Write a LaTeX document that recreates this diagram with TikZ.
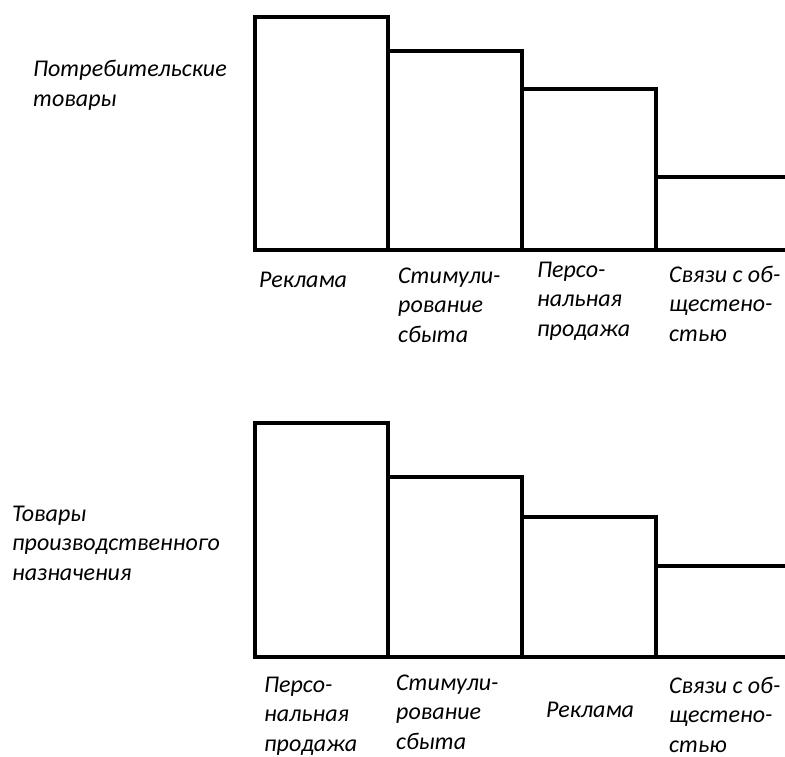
\documentclass[tikz,border=0pt]{standalone}
\usepackage{fontspec}
\setmainfont{Carlito}
\usepackage{tikz}
\usetikzlibrary{positioning}

\tikzset{
	bar/.style={draw=black, line width=3.5pt, line join=miter},
	% anchored at the baseline of the last line
	lbl/.style={anchor=base west, align=left, inner sep=0pt, font=\itshape\fontsize{24}{29.5}\selectfont},
}

\begin{document}
\begin{tikzpicture}[x=1pt, y=-1pt]
	\useasboundingbox (0,0) rectangle (785,757);

	% upper chart: bars
	\foreach \xa/\xb/\h in {255/388/17, 388/522/51, 522/656/89} {
		\draw[bar] (\xa,250) rectangle (\xb,\h);
	}
	\draw[bar] (785,177) -- (656,177) -- (656,250) -- (785,250);

	% upper chart: labels
	\node[lbl] (title1) at (33,106.5) {Потребительские\\товары};
	\foreach \t/\x/\y [count=\n] in {
		{Реклама}/259/287,
		{Стимули-\\рование\\сбыта}/398/342,
		{Персо-\\нальная\\продажа}/537/336,
		{Связи с об-\\щестено-\\стью}/669/341} {
		\node[lbl] (top\n) at (\x,\y) {\t};
	}

	% lower chart: bars
	\foreach \xa/\xb/\h in {255/388/423, 388/522/477, 522/656/517} {
		\draw[bar] (\xa,657) rectangle (\xb,\h);
	}
	\draw[bar] (785,566) -- (656,566) -- (656,657) -- (785,657);

	% lower chart: labels
	\node[lbl] (title2) at (12,580) {Товары\\производственного\\назначения};
	\foreach \t/\x/\y [count=\n] in {
		{Персо-\\нальная\\продажа}/264/751,
		{Стимули-\\рование\\сбыта}/396/749,
		{Реклама}/546/717,
		{Связи с об-\\щестено-\\стью}/669/752} {
		\node[lbl] (bot\n) at (\x,\y) {\t};
	}
\end{tikzpicture}
\end{document}
